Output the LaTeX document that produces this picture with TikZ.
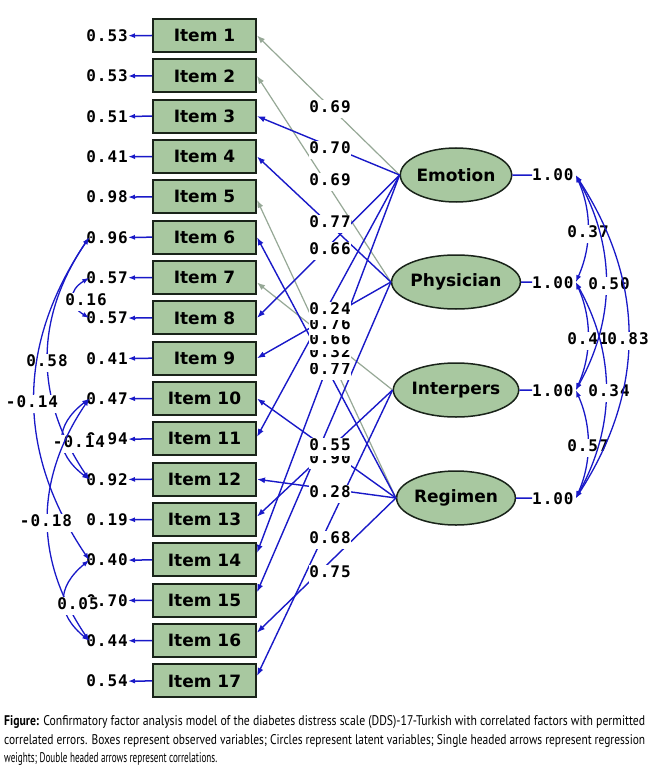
\documentclass[tikz,border=0pt]{standalone}
\usepackage{fontspec}
\usepackage{graphicx}
\usetikzlibrary{arrows.meta,shapes.geometric,calc}
\newfontfamily\numfont[LetterSpace=6]{DejaVu Sans Mono}
\newfontfamily\boxfont{DejaVu Sans}
\newfontfamily\capfont{PT Sans}
\definecolor{boxfill}{RGB}{168,200,160}
\definecolor{boxline}{RGB}{25,35,25}
\definecolor{amosblue}{RGB}{25,25,200}
\definecolor{amosgrey}{RGB}{150,168,150}
\tikzset{
  itembox/.style={draw=boxline, fill=boxfill, line width=2pt, minimum width=103pt, minimum height=33pt, inner sep=0pt, font=\boxfont\bfseries\fontsize{17}{17}\selectfont},
  factor/.style={ellipse, draw=boxline, fill=boxfill, line width=1.5pt, minimum width=100pt, minimum height=54pt, inner sep=0pt, font=\boxfont\bfseries\fontsize{17}{17}\selectfont},
  num/.style={font=\numfont\bfseries\fontsize{16}{16}\selectfont, inner sep=0pt, text=black},
  lbl/.style={num, fill=white, inner sep=0.5pt, text height=12pt, text depth=5pt, anchor=base},
  load/.style={draw=amosblue, line width=1.4pt, -{Latex[length=8pt,width=6pt]}},
  fixload/.style={load, draw=amosgrey, line width=1.2pt},
  errarrow/.style={draw=amosblue, line width=1.5pt, -{Latex[length=7pt,width=5pt]}},
  corr/.style={draw=amosblue, line width=1.3pt, {Latex[length=7pt,width=5pt]}-{Latex[length=7pt,width=5pt]}},
  varline/.style={draw=amosblue, line width=1.5pt}
}
\begin{document}
\begin{tikzpicture}[x=1pt,y=-1pt]
\useasboundingbox (0,0) rectangle (650,767);
\fill[white] (0,0) rectangle (650,767);

% observed items
\foreach \k in {1,...,17}{
  \node[itembox] (i\k) at (204.5,{35.5+(\k-1)*40.34}) {Item \k};
}
% latent factors
\node[factor] (emo) at (456,175) {Emotion};
\node[factor] (phy) at (456,282) {Physician};
\node[factor] (int) at (456,390) {Interpers};
\node[factor] (reg) at (456,498) {Regimen};

% factor loadings
\draw[fixload] (emo.west) -- (i1.east);
\draw[fixload] (phy.west) -- (i2.east);
\draw[fixload] (reg.west) -- ([yshift=-3pt]i5.east);
\draw[fixload] (int.west) -- ([yshift=-5pt]i7.east);
\draw[load] (emo.west) -- (i3.east);
\draw[load] (phy.west) -- (i4.east);
\draw[load] (reg.west) -- (i6.east);
\draw[load] (emo.west) -- (i8.east);
\draw[load] (phy.west) -- (i9.east);
\draw[load] (reg.west) -- (i10.east);
\draw[load] (emo.west) -- ([yshift=2pt]i11.east);
\draw[load] (reg.west) -- (i12.east);
\draw[load] (int.west) -- ([yshift=3pt]i13.east);
\draw[load] (emo.west) -- ([yshift=7pt]i14.east);
\draw[load] (phy.west) -- ([yshift=8pt]i15.east);
\draw[load] (reg.west) -- ([yshift=8pt]i16.east);
\draw[load] (int.west) -- ([yshift=5pt]i17.east);

% loading labels (bottom first so upper ones overlap)
\node[lbl] (l15) at (330,577) {0.75};
\node[lbl] (l14) at (330,543) {0.68};
\node[lbl] (l13) at (330,497) {0.28};
\node[lbl] (l12) at (330,463) {0.90};
\node[lbl] (l11) at (330,450) {0.55};
\node[lbl] (l10) at (330,374) {0.77};
\node[lbl] (l9) at (330,357) {0.32};
\node[lbl] (l8) at (330,344) {0.66};
\node[lbl] (l7) at (330,329) {0.76};
\node[lbl] (l6) at (330,314) {0.24};
\node[lbl] (l5) at (330,254) {0.66};
\node[lbl] (l4) at (330,227) {0.77};
\node[lbl] (l3) at (330,186) {0.69};
\node[lbl] (l2) at (330,154) {0.70};
\node[lbl] (l1) at (330,113) {0.69};

% error variances
\foreach \k/\v in {1/0.53,2/0.53,3/0.51,4/0.41,5/0.98,6/0.96,7/0.57,8/0.57,9/0.41,10/0.47,11/0.94,12/0.92,13/0.19,14/0.40,15/0.70,16/0.44,17/0.54}{
  \node[num, anchor=base east] (e\k) at (128,{35.5+(\k-1)*40.34+6}) {\v};
  \draw[errarrow] (i\k.west) -- (e\k.east);
}

% error correlations
\coordinate (p6) at ([xshift=3pt]e6.west);
\coordinate (p7) at ([xshift=3pt]e7.west);
\coordinate (p8) at ([xshift=3pt]e8.west);
\coordinate (p10) at ([xshift=3pt]e10.west);
\coordinate (p12) at ([xshift=3pt]e12.west);
\coordinate (p14) at ([xshift=3pt]e14.west);
\coordinate (p16) at ([xshift=3pt]e16.west);
\draw[corr] (p7) .. controls ($(p7)+(-21,13)$) and ($(p8)+(-21,-13)$) .. (p8);
\node[lbl] (k1) at (86,305) {0.16};
\draw[corr] (p6) .. controls ($(p6)+(-55,81)$) and ($(p12)+(-55,-81)$) .. (p12);
\node[lbl] (k2) at (47,366) {0.58};
\draw[corr] (p6) .. controls ($(p6)+(-73,108)$) and ($(p14)+(-73,-108)$) .. (p14);
\node[lbl] (k3) at (32,407) {-0.14};
\draw[corr] (p10) .. controls ($(p10)+(-35,27)$) and ($(p12)+(-35,-27)$) .. (p12);
\node[lbl] (k4) at (79,447) {-0.14};
\draw[corr] (p10) .. controls ($(p10)+(-55,81)$) and ($(p16)+(-55,-81)$) .. (p16);
\node[lbl] (k5) at (46,526) {-0.18};
\draw[corr] (p14) .. controls ($(p14)+(-33,27)$) and ($(p16)+(-33,-27)$) .. (p16);
\node[lbl] (k6) at (78,609) {0.05};

% factor variances
\node[num, anchor=base west] (vE) at (532,181) {1.00};
\node[num, anchor=base west] (vP) at (532,288) {1.00};
\node[num, anchor=base west] (vI) at (532,396) {1.00};
\node[num, anchor=base west] (vR) at (532,504) {1.00};
\draw[varline] (emo.east) -- (vE.west);
\draw[varline] (phy.east) -- (vP.west);
\draw[varline] (int.east) -- (vI.west);
\draw[varline] (reg.east) -- (vR.west);

% factor correlations
\coordinate (cE) at ([xshift=2pt]vE.east);
\coordinate (cP) at ([xshift=2pt]vP.east);
\coordinate (cI) at ([xshift=2pt]vI.east);
\coordinate (cR) at ([xshift=2pt]vR.east);
\draw[corr] (cE) .. controls ($(cE)+(16,36)$) and ($(cP)+(16,-36)$) .. (cP);
\node[lbl] (r1) at (588,237) {0.37};
\draw[corr] (cP) .. controls ($(cP)+(16,36)$) and ($(cI)+(16,-36)$) .. (cI);
\node[lbl] (r4) at (588,344) {0.41};
\draw[corr] (cI) .. controls ($(cI)+(16,36)$) and ($(cR)+(16,-36)$) .. (cR);
\node[lbl] (r6) at (588,451) {0.57};
\draw[corr] (cE) .. controls ($(cE)+(40,72)$) and ($(cI)+(40,-72)$) .. (cI);
\node[lbl] (r2) at (609,289) {0.50};
\draw[corr] (cP) .. controls ($(cP)+(40,72)$) and ($(cR)+(40,-72)$) .. (cR);
\node[lbl] (r5) at (609,396) {0.34};
\draw[corr] (cE) .. controls ($(cE)+(70,108)$) and ($(cR)+(70,-108)$) .. (cR);
\node[lbl] (r3) at (628,344) {0.83};

% caption
\node[anchor=base west, inner sep=0pt] (cap1) at (4,725) {\resizebox{641pt}{\height}{\capfont\fontsize{14}{16}\selectfont\textbf{Figure:} Confirmatory factor analysis model of the diabetes distress scale (DDS)-17-Turkish with correlated factors with permitted}};
\node[anchor=base west, inner sep=0pt] (cap2) at (4,744) {\resizebox{641pt}{\height}{\capfont\fontsize{14}{16}\selectfont correlated errors. Boxes represent observed variables; Circles represent latent variables; Single headed arrows represent regression}};
\node[anchor=base west, inner sep=0pt] (cap3) at (4,762) {\resizebox{213pt}{\height}{\capfont\fontsize{14}{16}\selectfont weights; Double headed arrows represent correlations.}};
\end{tikzpicture}
\end{document}
